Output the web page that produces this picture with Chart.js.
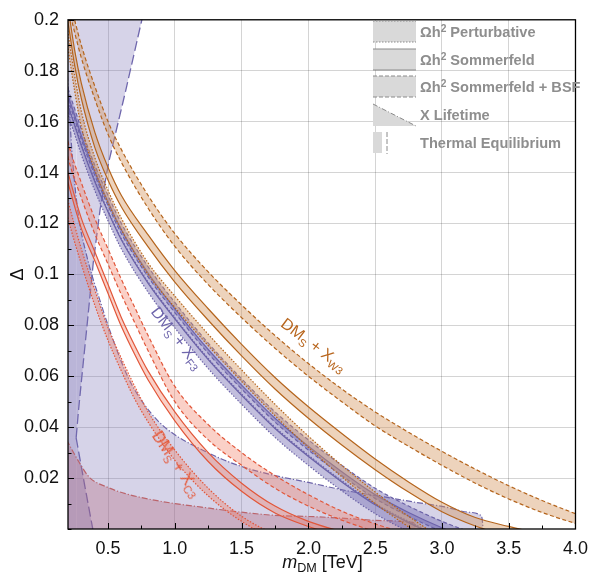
<!DOCTYPE html>
<html>
<head>
<meta charset="utf-8">
<script src="https://cdn.jsdelivr.net/npm/chart.js@4.4.0/dist/chart.umd.min.js"></script>
<style>
  html, body { margin: 0; padding: 0; background: #fff; }
  #wrap { position: relative; width: 597px; height: 575px; font-family: "Liberation Sans", Arial, sans-serif; }
  #chart { position: absolute; left: 0; top: 0; }
  .lbl { position: absolute; white-space: nowrap; font-size: 16px; line-height: 1; }
  .lbl sub { font-size: 0.68em; vertical-align: -0.35em; line-height: 0; }
  #legend { position: absolute; left: 373px; top: 18px; }
  .row { height: 27.8px; display: flex; align-items: center; }
  .row svg { width: 44px; height: 24px; flex: none; }
  .row span { margin-left: 3px; font-weight: bold; font-size: 14.6px; color: #8e8e8e; }
  .row sup { font-size: 0.7em; vertical-align: 0.5em; line-height: 0; }
  #xtitle { position: absolute; left: 0; width: 645px; top: 552px; text-align: center; font-size: 18px; color: #111; }
  #xtitle sub { font-size: 0.7em; vertical-align: -0.3em; line-height: 0; }
</style>
</head>
<body>
<div id="wrap">
  <canvas id="chart" width="597" height="575"></canvas>
  <div id="legend">
    <div class="row"><svg viewBox="0 0 44 24"><rect x="0" y="1" width="43" height="21" fill="#d9d9d9"/><line x1="0" y1="1" x2="43" y2="1" stroke="#8a8a8a" stroke-dasharray="1.5 1.5"/><line x1="0" y1="22" x2="43" y2="22" stroke="#8a8a8a" stroke-dasharray="1.5 1.5"/></svg><span>Ωh<sup>2</sup> Perturbative</span></div>
    <div class="row"><svg viewBox="0 0 44 24"><rect x="0" y="1" width="43" height="21" fill="#d9d9d9"/><line x1="0" y1="1" x2="43" y2="1" stroke="#8a8a8a"/><line x1="0" y1="22" x2="43" y2="22" stroke="#8a8a8a"/></svg><span>Ωh<sup>2</sup> Sommerfeld</span></div>
    <div class="row"><svg viewBox="0 0 44 24"><rect x="0" y="1" width="43" height="21" fill="#d9d9d9"/><line x1="0" y1="1" x2="43" y2="1" stroke="#8a8a8a" stroke-dasharray="4 2"/><line x1="0" y1="22" x2="43" y2="22" stroke="#8a8a8a" stroke-dasharray="4 2"/></svg><span>Ωh<sup>2</sup> Sommerfeld + BSF</span></div>
    <div class="row"><svg viewBox="0 0 44 24"><polygon points="0,1 43,23 0,23" fill="#d9d9d9"/><line x1="0" y1="1" x2="43" y2="23" stroke="#8a8a8a" stroke-dasharray="5 2 1 2"/></svg><span>X Lifetime</span></div>
    <div class="row"><svg viewBox="0 0 44 24"><rect x="0" y="1" width="9" height="21" fill="#d9d9d9"/><line x1="14" y1="1" x2="14" y2="23" stroke="#8a8a8a" stroke-dasharray="5 2"/></svg><span>Thermal Equilibrium</span></div>
  </div>
  <div class="lbl" id="lblF3" style="color:#6f66ac">DM<sub>S</sub> + X<sub>F3</sub></div>
  <div class="lbl" id="lblW3" style="color:#b8661e">DM<sub>S</sub> + X<sub>W3</sub></div>
  <div class="lbl" id="lblC3" style="color:#e5593a">DM<sub>S</sub> + X<sub>C3</sub></div>
  <div id="xtitle"><i>m</i><sub>DM</sub> [TeV]</div>
</div>
<script>
// mass grids (TeV)
const massF3 = [0.15, 0.2, 0.25, 0.3, 0.4, 0.5, 0.6, 0.8, 1.0, 1.25, 1.5, 1.75, 2.0, 2.25, 2.5, 2.75, 3.0, 3.25];
const massW3 = [0.15, 0.2, 0.25, 0.3, 0.4, 0.5, 0.6, 0.8, 1.0, 1.25, 1.5, 1.75, 2.0, 2.25, 2.5, 2.75, 3.0, 3.25, 3.5, 3.75, 4.0, 4.1];
const massC3 = [0.15, 0.2, 0.3, 0.4, 0.5, 0.6, 0.7, 0.8, 1.0, 1.25, 1.5, 1.75, 2.0, 2.25, 2.5, 2.75];

// DMs + X_W3 bands (upper / lower edge of Delta)
const w3BsfHi  = [0.225, 0.212, 0.2, 0.19, 0.174, 0.16, 0.149, 0.131, 0.116, 0.101, 0.088, 0.076, 0.065, 0.055, 0.046, 0.038, 0.0305, 0.0235, 0.017, 0.0112, 0.006, 0.004];
const w3BsfLo  = [0.219, 0.206, 0.195, 0.185, 0.169, 0.155, 0.144, 0.126, 0.111, 0.096, 0.083, 0.071, 0.06, 0.05, 0.0405, 0.0325, 0.025, 0.018, 0.0118, 0.0065, 0.0022, 0.0008];
const w3SomHi  = [0.22, 0.205, 0.188, 0.175, 0.156, 0.142, 0.131, 0.1155, 0.1015, 0.0865, 0.0725, 0.0595, 0.048, 0.0375, 0.0275, 0.0185, 0.0105, 0.0045, 0.001, -0.002, -0.005, -0.006];
const w3SomLo  = [0.214, 0.199, 0.182, 0.169, 0.15, 0.137, 0.1265, 0.1108, 0.097, 0.082, 0.068, 0.055, 0.0435, 0.033, 0.0233, 0.0145, 0.0068, 0.0012, -0.003, -0.006, -0.009, -0.01];
const w3PertHi = [0.215, 0.195, 0.178, 0.164, 0.146, 0.133, 0.122, 0.1045, 0.0915, 0.0765, 0.0625, 0.049, 0.0365, 0.025, 0.0145, 0.005, -0.0035, -0.009, -0.013, -0.016, -0.019, -0.02];
const w3PertLo = [0.208, 0.189, 0.172, 0.158, 0.141, 0.128, 0.1175, 0.1, 0.087, 0.072, 0.058, 0.0445, 0.032, 0.0205, 0.01, 0.0008, -0.0075, -0.013, -0.017, -0.02, -0.023, -0.024];

// DMs + X_F3 bands
const f3BsfHi  = [0.183, 0.173, 0.165, 0.157, 0.143, 0.131, 0.12, 0.103, 0.089, 0.073, 0.059, 0.046, 0.035, 0.025, 0.016, 0.009, 0.003, -0.002];
const f3BsfLo  = [0.179, 0.169, 0.161, 0.153, 0.139, 0.127, 0.116, 0.099, 0.085, 0.069, 0.055, 0.042, 0.031, 0.021, 0.012, 0.005, -0.001, -0.006];
const f3SomHi  = [0.1805, 0.1705, 0.1625, 0.1545, 0.1405, 0.1285, 0.1175, 0.1005, 0.0865, 0.0705, 0.0565, 0.0435, 0.0325, 0.0225, 0.0135, 0.0065, 0.0005, -0.0045];
const f3SomLo  = [0.1765, 0.1665, 0.1585, 0.1505, 0.1365, 0.1245, 0.1135, 0.0965, 0.0825, 0.0665, 0.0525, 0.0395, 0.0285, 0.0185, 0.0095, 0.0025, -0.0035, -0.0085];
const f3PertHi = [0.177, 0.167, 0.159, 0.151, 0.137, 0.125, 0.114, 0.097, 0.083, 0.067, 0.053, 0.04, 0.029, 0.019, 0.01, 0.003, -0.003, -0.008];
const f3PertLo = [0.173, 0.163, 0.155, 0.147, 0.133, 0.121, 0.11, 0.093, 0.079, 0.063, 0.049, 0.036, 0.025, 0.015, 0.006, -0.001, -0.007, -0.012];

// DMs + X_C3 bands
const c3BsfHi  = [0.165, 0.152, 0.136, 0.122, 0.11, 0.098, 0.087, 0.076, 0.056, 0.041, 0.03, 0.021, 0.0135, 0.007, 0.002, -0.002];
const c3BsfLo  = [0.159, 0.146, 0.13, 0.116, 0.104, 0.092, 0.081, 0.07, 0.05, 0.035, 0.025, 0.016, 0.009, 0.0035, -0.001, -0.005];
const c3SomHi  = [0.15, 0.14, 0.122, 0.109, 0.096, 0.083, 0.072, 0.062, 0.046, 0.03, 0.018, 0.009, 0.003, -0.001, -0.004, -0.007];
const c3SomLo  = [0.146, 0.136, 0.118, 0.1055, 0.0925, 0.0795, 0.0685, 0.0585, 0.0425, 0.0265, 0.0148, 0.0063, 0.001, -0.003, -0.006, -0.009];
const c3PertHi = [0.14, 0.129, 0.11, 0.094, 0.079, 0.067, 0.056, 0.046, 0.031, 0.016, 0.005, -0.002, -0.006, -0.009, -0.012, -0.015];
const c3PertLo = [0.133, 0.122, 0.104, 0.088, 0.074, 0.062, 0.051, 0.042, 0.027, 0.013, 0.003, -0.004, -0.008, -0.011, -0.014, -0.017];

// X lifetime boundaries
const lifeF3Mass  = [0.15, 0.2, 0.227, 0.276, 0.337, 0.45, 0.55, 0.655, 0.77, 0.877, 1.0, 1.17, 1.35, 1.52, 1.75, 2.0, 2.28, 2.57, 2.8, 3.02, 3.2, 3.29, 3.305, 3.31];
const lifeF3Delta = [0.2, 0.175, 0.15, 0.124, 0.108, 0.088, 0.0725, 0.059, 0.049, 0.0423, 0.037, 0.032, 0.0275, 0.0242, 0.021, 0.0183, 0.0151, 0.0126, 0.0105, 0.0087, 0.0066, 0.0054, 0.002, -0.005];
const lifeC3Mass  = [0.15, 0.2, 0.28, 0.36, 0.5, 0.63, 0.8, 1.0, 1.2, 1.37, 1.55, 1.74, 2.06, 2.3, 2.55, 2.78, 2.8, 2.81];
const lifeC3Delta = [0.039, 0.034, 0.0265, 0.0203, 0.0163, 0.0139, 0.0118, 0.01, 0.0086, 0.0074, 0.0063, 0.0054, 0.0048, 0.0041, 0.0033, 0.0026, 0.001, -0.005];

// thermal equilibrium boundary (region on its left), split in a lower and an upper branch
const thermLowMass   = [0.15, 0.261, 0.322, 0.384, 0.42];
const thermLowDelta  = [0.0358, 0.0358, 0.018, 0.0004, -0.01];
const thermHighMass  = [0.15, 0.261, 0.278, 0.3, 0.345, 0.389, 0.441, 0.507, 0.633, 0.753, 0.803];
const thermHighDelta = [0.0358, 0.0358, 0.0462, 0.0579, 0.0812, 0.1045, 0.1258, 0.1445, 0.1724, 0.2, 0.2113];

const xTicks = [0.5, 1.0, 1.5, 2.0, 2.5, 3.0, 3.5, 4.0];
const yTicks = [0.02, 0.04, 0.06, 0.08, 0.1, 0.12, 0.14, 0.16, 0.18, 0.2];

const DOT = [1.5, 1.6];
const DASH = [4, 2.5];
const DASHDOT = [6, 2, 1.2, 2];
const LONGDASH = [10, 4];

const pts = (ms, ds) => ms.map((m, i) => ({ x: m, y: ds[i] }));

function band(mass, hi, lo, line, fill, dash) {
    const common = { borderColor: line, borderWidth: 1.2, borderDash: dash, pointRadius: 0, cubicInterpolationMode: 'monotone' };
    return [
        { ...common, data: pts(mass, hi), fill: false },
        { ...common, data: pts(mass, lo), fill: '-1', backgroundColor: fill }
    ];
}

const W3_LINE = '#b5651d', W3_FILL = 'rgba(212,150,95,0.42)';
const F3_LINE = '#6c63a8', F3_FILL = 'rgba(110,100,175,0.42)';
const C3_LINE = '#e2573a', C3_FILL = 'rgba(240,125,100,0.36)';
const PURPLE_REGION = 'rgba(120,108,178,0.3)';
const RED_REGION = 'rgba(200,95,95,0.33)';

const datasets = [
    ...band(massW3, w3BsfHi, w3BsfLo, W3_LINE, W3_FILL, DASH),
    ...band(massW3, w3SomHi, w3SomLo, W3_LINE, W3_FILL, []),
    ...band(massW3, w3PertHi, w3PertLo, W3_LINE, W3_FILL, DOT),
    ...band(massF3, f3BsfHi, f3BsfLo, F3_LINE, F3_FILL, DASH),
    ...band(massF3, f3SomHi, f3SomLo, F3_LINE, F3_FILL, []),
    ...band(massF3, f3PertHi, f3PertLo, F3_LINE, F3_FILL, DOT),
    ...band(massC3, c3BsfHi, c3BsfLo, C3_LINE, C3_FILL, DASH),
    ...band(massC3, c3SomHi, c3SomLo, C3_LINE, C3_FILL, []),
    ...band(massC3, c3PertHi, c3PertLo, C3_LINE, C3_FILL, DOT),
    {
        data: pts(lifeF3Mass, lifeF3Delta), borderColor: '#6c63a8', borderWidth: 1.2, borderDash: DASHDOT,
        pointRadius: 0, cubicInterpolationMode: 'monotone', fill: 'start', backgroundColor: PURPLE_REGION
    },
    {
        data: pts(lifeC3Mass, lifeC3Delta), borderColor: '#d8604c', borderWidth: 1.2, borderDash: DASHDOT,
        pointRadius: 0, cubicInterpolationMode: 'monotone', fill: 'start', backgroundColor: RED_REGION
    },
    {
        data: pts(thermLowMass, thermLowDelta), borderColor: '#6f67ad', borderWidth: 1.3, borderDash: LONGDASH,
        pointRadius: 0, tension: 0, fill: 'start', backgroundColor: PURPLE_REGION,
        segment: { borderColor: c => c.p1DataIndex <= 1 ? 'rgba(0,0,0,0)' : '#6f67ad' }
    },
    {
        data: pts(thermHighMass, thermHighDelta), borderColor: '#6f67ad', borderWidth: 1.3, borderDash: LONGDASH,
        pointRadius: 0, tension: 0, fill: 'end', backgroundColor: PURPLE_REGION,
        segment: { borderColor: c => c.p1DataIndex <= 1 ? 'rgba(0,0,0,0)' : '#6f67ad' }
    }
];

const near = (v, list) => list.some(t => Math.abs(t - v) < 1e-6);
const onStep = (v, s) => Math.abs(v / s - Math.round(v / s)) < 1e-6;

// frame and inward tick marks
const framePlugin = {
    id: 'frame',
    afterDraw(chart) {
        const { ctx, chartArea: a, scales: { x, y } } = chart;
        ctx.save();
        ctx.strokeStyle = '#000';
        ctx.lineWidth = 1;
        x.ticks.forEach(t => {
            if (!onStep(t.value, 0.25)) return;
            const px = Math.round(x.getPixelForValue(t.value)) + 0.5;
            const len = near(t.value, xTicks) ? 6 : 3.5;
            ctx.beginPath(); ctx.moveTo(px, a.bottom); ctx.lineTo(px, a.bottom - len); ctx.stroke();
        });
        y.ticks.forEach(t => {
            if (!onStep(t.value, 0.01)) return;
            const py = Math.round(y.getPixelForValue(t.value)) + 0.5;
            const len = near(t.value, yTicks) ? 6 : 3.5;
            ctx.beginPath(); ctx.moveTo(a.left, py); ctx.lineTo(a.left + len, py); ctx.stroke();
        });
        ctx.lineWidth = 1.3;
        ctx.strokeRect(a.left, a.top, a.right - a.left, a.bottom - a.top);
        ctx.restore();
    }
};

Chart.defaults.font.family = '"Liberation Sans", Arial, sans-serif';

const chart = new Chart(document.getElementById('chart').getContext('2d'), {
    type: 'line',
    data: { datasets },
    options: {
        responsive: false,
        animation: false,
        layout: { padding: { top: 14, right: 14, left: 0, bottom: 0 } },
        plugins: { legend: { display: false }, tooltip: { enabled: false } },
        scales: {
            x: {
                type: 'linear', min: 0.2, max: 4.0,
                afterFit: s => { s.height = 46; },
                border: { display: false },
                grid: { drawTicks: false, color: c => near(c.tick.value, xTicks) ? 'rgba(0,0,0,0.17)' : 'rgba(0,0,0,0)' },
                ticks: {
                    stepSize: 0.25, padding: 9, color: '#111', font: { size: 18 }, maxRotation: 0, autoSkip: false,
                    callback: v => near(v, xTicks) ? v.toFixed(1) : ''
                }
            },
            y: {
                type: 'linear', min: 0, max: 0.2,
                afterFit: s => { s.width = 68; },
                border: { display: false },
                grid: { drawTicks: false, color: c => near(c.tick.value, yTicks) ? 'rgba(0,0,0,0.17)' : 'rgba(0,0,0,0)' },
                title: { display: true, text: 'Δ', color: '#111', font: { size: 18 }, padding: { top: 7, bottom: 0 } },
                ticks: {
                    stepSize: 0.01, padding: 9, color: '#111', font: { size: 18 }, autoSkip: false,
                    callback: v => near(v, yTicks) ? String(parseFloat(v.toFixed(2))) : ''
                }
            }
        }
    },
    plugins: [framePlugin]
});

// rotated curve labels
function place(id, cx, cy, deg) {
    const el = document.getElementById(id);
    el.style.left = (cx - el.offsetWidth / 2) + 'px';
    el.style.top = (cy - el.offsetHeight / 2) + 'px';
    el.style.transform = 'rotate(' + deg + 'deg)';
}
place('lblF3', 177, 338, 52);
place('lblW3', 313, 345, 37);
place('lblC3', 176, 464, 56);
</script>
</body>
</html>
